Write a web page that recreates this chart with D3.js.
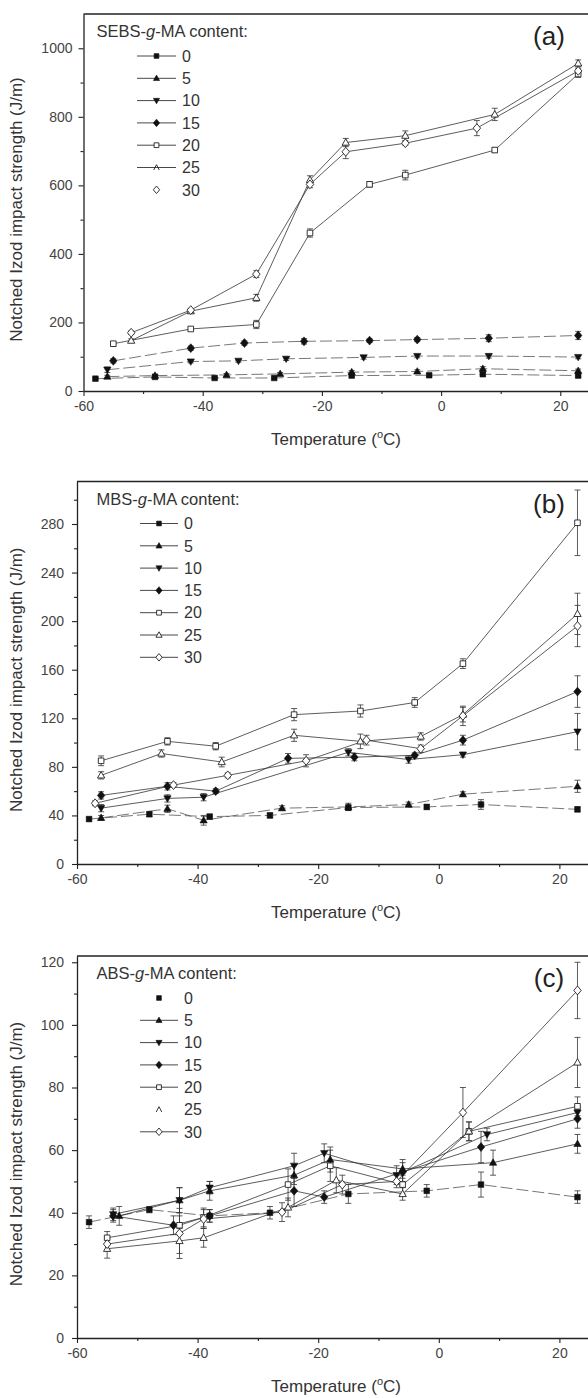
<!DOCTYPE html>
<html><head><meta charset="utf-8">
<script src="https://cdn.jsdelivr.net/npm/d3@7/dist/d3.min.js"></script>
<style>body{margin:0;background:#fff} svg{display:block} text{font-family:"Liberation Sans",Arial,sans-serif}</style>
</head><body><svg id="chart" width="588" height="1398"></svg>
<script>
// ---------- shared categories / ticks ----------
const contentLevels = ["0","5","10","15","20","25","30"];
const xTickValues = [-60,-40,-20,0,20];
const xMinorValues = [-50,-30,-10,10];

// ---------- (a) SEBS-g-MA ----------
const aTemp = [
  [-58,-48,-38,-28,-15,-2,7,23],
  [-56,-48,-36,-27,-15,-4,7,23],
  [-56,-42,-34,-26,-13,-4,8,23],
  [-55,-42,-33,-23,-12,-4,8,23],
  [-55,-42,-31,-22,-12,-6,9,23],
  [-52,-42,-31,-22,-16,-6,9,23],
  [-52,-42,-31,-22,-16,-6,6,23]
];
const aValue = [
  [36,41,38,38,45,46,49,45],
  [42,45,47,50,55,57,65,59],
  [62,86,88,94,98,102,102,99],
  [88,125,140,145,147,150,154,162],
  [138,181,194,461,603,630,703,925],
  [147,233,272,616,725,745,807,956],
  [170,236,341,603,698,723,767,934]
];
const aError = [
  [3,4,3,3,4,4,5,4],
  [4,4,4,4,5,5,6,5],
  [8,4,4,5,5,5,6,5],
  [6,6,6,8,5,6,10,12],
  [6,5,12,12,8,14,7,10],
  [5,5,10,12,12,14,18,10],
  [5,5,10,10,20,6,22,8]
];
const aYTicks = [0,200,400,600,800,1000];
const aYMinor = [100,300,500,700,900];

// ---------- (b) MBS-g-MA ----------
const bTemp = [
  [-58,-48,-38,-28,-15,-2,7,23],
  [-56,-45,-39,-26,-15,-5,4,23],
  [-56,-45,-39,-15,-5,4,23],
  [-56,-45,-37,-25,-14,-4,4,23],
  [-56,-45,-37,-24,-13,-4,4,23],
  [-56,-46,-36,-24,-13,-3,4,23],
  [-57,-44,-35,-22,-12,-3,4,23]
];
const bValue = [
  [37,41,39,40,46.5,47,49,45],
  [38,45.5,36,46,47,49,57.5,64],
  [46,54,55,92,86,90,109],
  [56.5,64,60,87,88,89.5,102,142],
  [85,101,97,123,126,133,165,281],
  [73,91,84,106,101,105,123,206],
  [50,65,73,85,102,95,122,196]
];
const bError = [
  [1.5,2,2,2,2,2,4,2],
  [2,3,4,2,3,2,2,5],
  [3,3,3,3,3,2,15],
  [3,3,2,4,3,2,4,13],
  [4,3,3,5,5,4,4,27],
  [3,3,4,5,6,3,6,17],
  [2,2,2,5,4,3,8,17]
];
const bYTicks = [0,40,80,120,160,200,240,280];
const bYMinor = [20,60,100,140,180,220,260,300];

// ---------- (c) ABS-g-MA ----------
const cTemp = [
  [-58,-48,-38,-28,-15,-2,7,23],
  [-53,-43,-38,-24,-18,-6,9,23],
  [-54,-43,-38,-24,-19,-7,8,23],
  [-54,-44,-38,-24,-19,-6,7,23],
  [-55,-43,-39,-25,-18,-6,5,23],
  [-55,-43,-39,-25,-17,-6,5,23],
  [-55,-43,-39,-26,-16,-7,4,23]
];
const cValue = [
  [37,41,39,40,46,47,49,45],
  [39,44,47,52,57,54,56,62],
  [39.5,44,48,55,59,52,65,72],
  [39,36,39,47,45,53,61,70],
  [32,36,38.5,49,55,49,66,74],
  [28.5,31,32,41.7,50.4,46,66,88],
  [30,33.4,38,40.2,49,50,72,111]
];
const cError = [
  [2,1,2,2,3,2,4,2],
  [3,4,3,3,4,3,4,3],
  [2,4,2,4,3,3,2,2],
  [2,3,2,5,2,3,5,3],
  [2,3,3,5,5,3,3,3],
  [3,4,3,3,4,2,3,8],
  [2,8,3,3,3,2,8,9]
];
const cYTicks = [0,20,40,60,80,100,120];
const cYMinor = [10,30,50,70,90,110];

// ---------- drawing ----------
const svg = d3.select("#chart");
svg.append("rect").attr("width",588).attr("height",1398).attr("fill","#fff");

const markerKinds = ["sqF","triUpF","triDnF","diaF","sqO","triUpO","diaO"];
function markerPath(kind, s) {
  if (kind.startsWith("sq")) return `M${-s},${-s}h${2*s}v${2*s}h${-2*s}Z`;
  if (kind.startsWith("triUp")) return `M0,${-s*1.15}L${s*1.1},${s*0.8}L${-s*1.1},${s*0.8}Z`;
  if (kind.startsWith("triDn")) return `M0,${s*1.15}L${s*1.1},${-s*0.8}L${-s*1.1},${-s*0.8}Z`;
  if (kind.startsWith("dia")) return `M0,${-s*1.3}L${s*1.1},0L0,${s*1.3}L${-s*1.1},0Z`;
  if (kind === "caret") return `M${-s},${s*0.9}L0,${-s}L${s},${s*0.9}`;
  return "";
}
function markerSize(kind){ return kind.startsWith("sq") ? 2.8 : (kind.startsWith("dia") ? 3.4 : 3.3); }

function drawMarker(g, kind, cx, cy, scale) {
  const filled = kind.endsWith("F");
  const s = markerSize(kind) * (scale||1);
  g.append("path").attr("d", markerPath(kind, s))
    .attr("transform", `translate(${cx},${cy})`)
    .attr("fill", kind === "caret" ? "none" : (filled ? "#111" : "#fff"))
    .attr("stroke", filled ? "#111" : "#222")
    .attr("stroke-width", filled ? 0.6 : 0.9);
}

const plainFmt = d => String(d);

function drawPanel(cfg) {
  const g = svg.append("g");
  const x = d3.scaleLinear().domain([-60,30]).range([cfg.left, cfg.left + 90*cfg.ppu]);
  const y = d3.scaleLinear().domain([0,cfg.yMax]).range([cfg.bottom, cfg.top]);

  // minor ticks
  const yMin = g.append("g").attr("transform",`translate(${cfg.left},0)`)
    .call(d3.axisLeft(y).tickValues(cfg.yMinor).tickSize(3).tickFormat(""));
  yMin.select(".domain").remove();
  const xMin = g.append("g").attr("transform",`translate(0,${cfg.bottom})`)
    .call(d3.axisBottom(x).tickValues(xMinorValues).tickSize(3).tickFormat(""));
  xMin.select(".domain").remove();

  // major axes
  const yAx = g.append("g").attr("transform",`translate(${cfg.left},0)`)
    .call(d3.axisLeft(y).tickValues(cfg.yTicks).tickFormat(plainFmt).tickSize(5).tickPadding(cfg.pad).tickSizeOuter(0));
  const xAx = g.append("g").attr("transform",`translate(0,${cfg.bottom})`)
    .call(d3.axisBottom(x).tickValues(xTickValues).tickFormat(plainFmt).tickSize(5).tickPadding(5).tickSizeOuter(0));
  [yAx, xAx, yMin, xMin].forEach(a => {
    a.selectAll("line").attr("stroke","#222").attr("stroke-width",1.1);
    a.select(".domain").attr("stroke","#222").attr("stroke-width",1.3);
    a.selectAll("text").attr("font-size",14).attr("fill","#444")
      .attr("font-family","'Liberation Sans',Arial,sans-serif");
  });
  // top frame
  g.append("line").attr("x1",x(-60)).attr("x2",x(30)).attr("y1",cfg.top).attr("y2",cfg.top)
    .attr("stroke","#222").attr("stroke-width",1.3);

  // series
  const line = d3.line().x(d => x(d[0])).y(d => y(d[1]));
  cfg.temps.forEach((ts, i) => {
    const pts = ts.map((t, j) => [t, cfg.values[i][j], cfg.errors[i][j]]);
    const dashed = cfg.dashed.includes(i);
    g.append("path").attr("d", line(pts)).attr("fill","none")
      .attr("stroke", dashed ? "#555" : "#333").attr("stroke-width", 0.8)
      .attr("stroke-dasharray", dashed ? "12,4" : null);
    pts.forEach(p => {
      const y1 = y(p[1]-p[2]), y2 = y(p[1]+p[2]), cx = x(p[0]);
      g.append("line").attr("x1",cx).attr("x2",cx).attr("y1",y1).attr("y2",y2).attr("stroke","#333").attr("stroke-width",0.8);
      [y1,y2].forEach(yy => g.append("line").attr("x1",cx-3).attr("x2",cx+3).attr("y1",yy).attr("y2",yy).attr("stroke","#333").attr("stroke-width",0.8));
    });
  });
  cfg.temps.forEach((ts, i) => {
    ts.forEach((t, j) => drawMarker(g, markerKinds[i], x(t), y(cfg.values[i][j]), 1));
  });

  // axis titles
  const ylab = (cfg.top + cfg.bottom)/2 + 7;
  g.append("text").attr("transform",`translate(22,${ylab}) rotate(-90)`).attr("text-anchor","middle")
    .attr("font-size",17).attr("fill","#333").text("Notched Izod impact strength (J/m)");
  const xt = g.append("text").attr("x",336).attr("y",cfg.bottom + 54).attr("text-anchor","middle")
    .attr("font-size",17).attr("fill","#333");
  xt.append("tspan").text("Temperature (");
  xt.append("tspan").attr("font-size",11).attr("dy",-7).text("o");
  xt.append("tspan").attr("dy",7).text("C)");

  // panel letter
  g.append("text").attr("x",549).attr("y",cfg.top + 31).attr("text-anchor","middle")
    .attr("font-size",26).attr("fill","#222").text(cfg.letter);

  // legend
  const lt = g.append("text").attr("x",96.5).attr("y",cfg.top + 23).attr("font-size",16.5).attr("fill","#333");
  lt.append("tspan").text(cfg.polymer + "-");
  lt.append("tspan").attr("font-style","italic").text("g");
  lt.append("tspan").text("-MA content:");
  contentLevels.forEach((lab, i) => {
    const ry = cfg.top + 42 + i*22.3;
    if (!cfg.noLine.includes(i)) {
      g.append("line").attr("x1",cfg.lx1).attr("x2",cfg.lx2).attr("y1",ry).attr("y2",ry)
        .attr("stroke","#333").attr("stroke-width",0.9);
    }
    const kind = cfg.caret.includes(i) ? "caret" : markerKinds[i];
    drawMarker(g, kind, (cfg.lx1+cfg.lx2)/2, ry, 0.85);
    g.append("text").attr("x",cfg.lx2+6).attr("y",ry).attr("dy","0.36em").attr("font-size",16)
      .attr("fill","#333").text(lab);
  });
}

drawPanel({letter:"(a)", polymer:"SEBS", left:83.5, ppu:5.96, top:14, bottom:391, yMax:1100,
  yTicks:aYTicks, yMinor:aYMinor, pad:6, temps:aTemp, values:aValue, errors:aError,
  dashed:[0,1,2,3], noLine:[6], caret:[5], lx1:137, lx2:176});
drawPanel({letter:"(b)", polymer:"MBS", left:77, ppu:6.03, top:481.5, bottom:864, yMax:315,
  yTicks:bYTicks, yMinor:bYMinor, pad:8, temps:bTemp, values:bValue, errors:bError,
  dashed:[0,1], noLine:[], caret:[], lx1:140, lx2:178});
drawPanel({letter:"(c)", polymer:"ABS", left:77, ppu:6.03, top:956, bottom:1338, yMax:122,
  yTicks:cYTicks, yMinor:cYMinor, pad:8, temps:cTemp, values:cValue, errors:cError,
  dashed:[0], noLine:[0,5], caret:[5], lx1:140, lx2:178});
</script></body></html>
